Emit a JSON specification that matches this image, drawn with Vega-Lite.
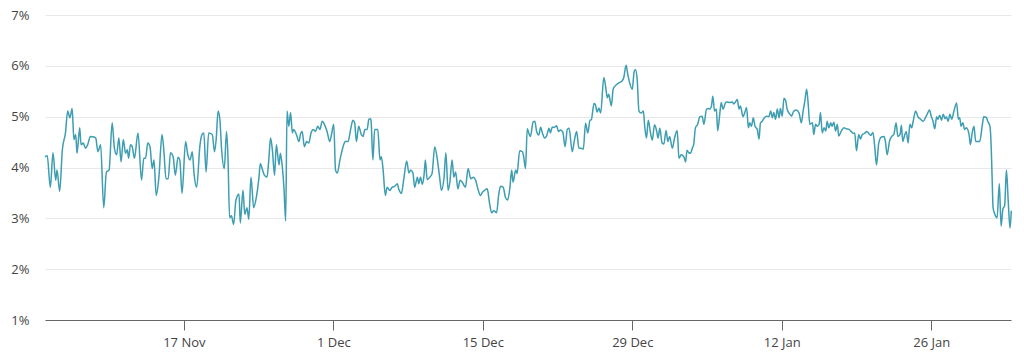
{
"$schema": "https://vega.github.io/schema/vega-lite/v6.json",
"width": 966,
"height": 305,
"autosize": {"type": "none"},
"padding": {"left": 45, "top": 15, "right": 13, "bottom": 43},
"background": "#ffffff",
"config": {"view": {"stroke": null}, "font": "Open Sans"},
"data": {"values": [
{"t":"2024-11-04T00:00","v":4.21},{"t":"2024-11-04T05:00","v":4.23},{"t":"2024-11-04T12:00","v":3.61},{"t":"2024-11-04T18:00","v":4.29},
{"t":"2024-11-05T00:00","v":3.75},{"t":"2024-11-05T03:00","v":3.95},{"t":"2024-11-05T09:00","v":3.53},{"t":"2024-11-05T15:00","v":4.35},{"t":"2024-11-05T22:00","v":4.68},
{"t":"2024-11-06T03:00","v":5.11},{"t":"2024-11-06T08:00","v":4.98},{"t":"2024-11-06T13:00","v":5.16},{"t":"2024-11-06T17:00","v":4.55},{"t":"2024-11-06T21:00","v":4.65},
{"t":"2024-11-07T00:00","v":4.28},{"t":"2024-11-07T06:00","v":4.78},{"t":"2024-11-07T09:00","v":4.45},{"t":"2024-11-07T14:00","v":4.48},{"t":"2024-11-07T19:00","v":4.38},
{"t":"2024-11-08T00:00","v":4.45},{"t":"2024-11-08T06:00","v":4.61},{"t":"2024-11-08T14:00","v":4.60},{"t":"2024-11-08T18:00","v":4.58},{"t":"2024-11-08T23:00","v":4.31},
{"t":"2024-11-09T05:00","v":4.45},{"t":"2024-11-09T12:00","v":3.21},{"t":"2024-11-09T18:00","v":3.91},
{"t":"2024-11-10T00:00","v":3.95},{"t":"2024-11-10T07:00","v":4.88},{"t":"2024-11-10T12:00","v":4.38},{"t":"2024-11-10T17:00","v":4.25},{"t":"2024-11-10T22:00","v":4.58},
{"t":"2024-11-11T03:00","v":4.11},{"t":"2024-11-11T08:00","v":4.55},{"t":"2024-11-11T13:00","v":4.28},{"t":"2024-11-11T17:00","v":4.35},{"t":"2024-11-11T20:00","v":4.18},
{"t":"2024-11-12T00:00","v":4.45},{"t":"2024-11-12T04:00","v":4.41},{"t":"2024-11-12T09:00","v":4.18},{"t":"2024-11-12T17:00","v":4.68},
{"t":"2024-11-13T01:00","v":3.75},{"t":"2024-11-13T06:00","v":4.18},{"t":"2024-11-13T10:00","v":4.18},{"t":"2024-11-13T15:00","v":4.48},{"t":"2024-11-13T20:00","v":4.41},
{"t":"2024-11-14T01:00","v":3.98},{"t":"2024-11-14T05:00","v":4.15},{"t":"2024-11-14T10:00","v":3.45},{"t":"2024-11-14T16:00","v":3.81},{"t":"2024-11-14T23:00","v":4.65},
{"t":"2024-11-15T03:00","v":4.35},{"t":"2024-11-15T08:00","v":3.78},{"t":"2024-11-15T13:00","v":3.78},{"t":"2024-11-15T18:00","v":4.29},
{"t":"2024-11-16T00:00","v":4.21},{"t":"2024-11-16T05:00","v":3.85},{"t":"2024-11-16T11:00","v":4.20},{"t":"2024-11-16T15:00","v":4.15},{"t":"2024-11-16T20:00","v":3.49},
{"t":"2024-11-17T04:00","v":4.51},{"t":"2024-11-17T09:00","v":4.25},{"t":"2024-11-17T14:00","v":4.15},{"t":"2024-11-17T19:00","v":4.31},{"t":"2024-11-17T23:00","v":3.88},
{"t":"2024-11-18T05:00","v":3.61},{"t":"2024-11-18T12:00","v":4.41},{"t":"2024-11-18T17:00","v":4.65},{"t":"2024-11-18T21:00","v":4.68},
{"t":"2024-11-19T02:00","v":3.91},{"t":"2024-11-19T08:00","v":4.68},{"t":"2024-11-19T16:00","v":4.65},{"t":"2024-11-19T21:00","v":4.31},
{"t":"2024-11-20T01:00","v":4.58},{"t":"2024-11-20T05:00","v":5.11},{"t":"2024-11-20T09:00","v":4.95},{"t":"2024-11-20T13:00","v":4.35},{"t":"2024-11-20T19:00","v":3.98},
{"t":"2024-11-21T00:00","v":4.71},{"t":"2024-11-21T03:00","v":4.28},{"t":"2024-11-21T07:00","v":3.01},{"t":"2024-11-21T11:00","v":3.05},{"t":"2024-11-21T16:00","v":2.88},{"t":"2024-11-21T21:00","v":3.35},
{"t":"2024-11-22T04:00","v":3.48},{"t":"2024-11-22T07:00","v":2.91},{"t":"2024-11-22T13:00","v":3.55},{"t":"2024-11-22T17:00","v":3.08},{"t":"2024-11-22T22:00","v":3.21},
{"t":"2024-11-23T02:00","v":2.98},{"t":"2024-11-23T07:00","v":3.81},{"t":"2024-11-23T13:00","v":3.21},{"t":"2024-11-23T19:00","v":3.41},
{"t":"2024-11-24T01:00","v":3.81},{"t":"2024-11-24T04:00","v":4.08},{"t":"2024-11-24T08:00","v":3.98},{"t":"2024-11-24T13:00","v":3.85},{"t":"2024-11-24T19:00","v":3.81},{"t":"2024-11-24T23:00","v":4.15},
{"t":"2024-11-25T03:00","v":4.58},{"t":"2024-11-25T07:00","v":4.35},{"t":"2024-11-25T12:00","v":3.85},{"t":"2024-11-25T16:00","v":4.45},{"t":"2024-11-25T22:00","v":4.05},
{"t":"2024-11-26T01:00","v":4.28},{"t":"2024-11-26T05:00","v":4.05},{"t":"2024-11-26T09:00","v":3.61},{"t":"2024-11-26T13:00","v":2.95},{"t":"2024-11-26T16:00","v":5.11},{"t":"2024-11-26T20:00","v":4.81},
{"t":"2024-11-27T00:00","v":5.08},{"t":"2024-11-27T04:00","v":4.68},{"t":"2024-11-27T07:00","v":4.75},{"t":"2024-11-27T13:00","v":4.65},{"t":"2024-11-27T19:00","v":4.51},{"t":"2024-11-27T22:00","v":4.65},
{"t":"2024-11-28T02:00","v":4.71},{"t":"2024-11-28T07:00","v":4.41},{"t":"2024-11-28T12:00","v":4.51},{"t":"2024-11-28T17:00","v":4.48},{"t":"2024-11-28T22:00","v":4.68},
{"t":"2024-11-29T03:00","v":4.75},{"t":"2024-11-29T08:00","v":4.71},{"t":"2024-11-29T13:00","v":4.81},{"t":"2024-11-29T18:00","v":4.75},{"t":"2024-11-29T23:00","v":4.91},
{"t":"2024-11-30T04:00","v":4.85},{"t":"2024-11-30T10:00","v":4.71},{"t":"2024-11-30T16:00","v":4.51},{"t":"2024-11-30T20:00","v":4.65},
{"t":"2024-12-01T01:00","v":4.85},{"t":"2024-12-01T05:00","v":3.95},{"t":"2024-12-01T09:00","v":3.89},{"t":"2024-12-01T15:00","v":4.15},{"t":"2024-12-01T22:00","v":4.41},
{"t":"2024-12-02T03:00","v":4.51},{"t":"2024-12-02T09:00","v":4.51},{"t":"2024-12-02T15:00","v":4.75},{"t":"2024-12-02T20:00","v":4.93},
{"t":"2024-12-03T00:00","v":4.88},{"t":"2024-12-03T04:00","v":4.51},{"t":"2024-12-03T09:00","v":4.81},{"t":"2024-12-03T15:00","v":4.65},{"t":"2024-12-03T19:00","v":4.61},{"t":"2024-12-03T23:00","v":4.75},
{"t":"2024-12-04T04:00","v":4.75},{"t":"2024-12-04T08:00","v":4.95},{"t":"2024-12-04T12:00","v":4.96},{"t":"2024-12-04T13:00","v":4.91},{"t":"2024-12-04T17:00","v":4.15},{"t":"2024-12-04T21:00","v":4.75},
{"t":"2024-12-05T04:00","v":4.75},{"t":"2024-12-05T09:00","v":4.15},{"t":"2024-12-05T12:00","v":4.21},{"t":"2024-12-05T16:00","v":3.95},{"t":"2024-12-05T21:00","v":3.45},
{"t":"2024-12-06T01:00","v":3.61},{"t":"2024-12-06T07:00","v":3.55},{"t":"2024-12-06T12:00","v":3.61},{"t":"2024-12-06T18:00","v":3.63},
{"t":"2024-12-07T00:00","v":3.68},{"t":"2024-12-07T03:00","v":3.58},{"t":"2024-12-07T09:00","v":3.49},{"t":"2024-12-07T15:00","v":3.81},{"t":"2024-12-07T21:00","v":4.13},
{"t":"2024-12-08T02:00","v":3.89},{"t":"2024-12-08T06:00","v":3.95},{"t":"2024-12-08T11:00","v":3.89},{"t":"2024-12-08T15:00","v":3.61},{"t":"2024-12-08T21:00","v":3.81},
{"t":"2024-12-09T00:00","v":3.68},{"t":"2024-12-09T04:00","v":3.81},{"t":"2024-12-09T08:00","v":3.67},{"t":"2024-12-09T12:00","v":3.85},{"t":"2024-12-09T15:00","v":4.15},{"t":"2024-12-09T19:00","v":3.76},
{"t":"2024-12-10T01:00","v":3.81},{"t":"2024-12-10T06:00","v":3.88},{"t":"2024-12-10T12:00","v":4.41},{"t":"2024-12-10T18:00","v":4.15},{"t":"2024-12-10T23:00","v":3.81},
{"t":"2024-12-11T03:00","v":3.55},{"t":"2024-12-11T09:00","v":3.81},{"t":"2024-12-11T13:00","v":4.29},{"t":"2024-12-11T18:00","v":3.55},{"t":"2024-12-11T22:00","v":3.71},
{"t":"2024-12-12T03:00","v":4.15},{"t":"2024-12-12T07:00","v":3.81},{"t":"2024-12-12T11:00","v":3.91},{"t":"2024-12-12T16:00","v":3.58},{"t":"2024-12-12T21:00","v":3.75},
{"t":"2024-12-13T02:00","v":3.71},{"t":"2024-12-13T09:00","v":3.61},{"t":"2024-12-13T15:00","v":3.98},{"t":"2024-12-13T21:00","v":3.78},
{"t":"2024-12-14T03:00","v":3.81},{"t":"2024-12-14T08:00","v":3.75},{"t":"2024-12-14T13:00","v":3.58},{"t":"2024-12-14T19:00","v":3.45},{"t":"2024-12-14T23:00","v":3.51},
{"t":"2024-12-15T04:00","v":3.55},{"t":"2024-12-15T10:00","v":3.58},{"t":"2024-12-15T15:00","v":3.31},{"t":"2024-12-15T20:00","v":3.11},
{"t":"2024-12-16T01:00","v":3.15},{"t":"2024-12-16T07:00","v":3.11},{"t":"2024-12-16T12:00","v":3.48},{"t":"2024-12-16T16:00","v":3.63},{"t":"2024-12-16T22:00","v":3.61},
{"t":"2024-12-17T03:00","v":3.41},{"t":"2024-12-17T08:00","v":3.36},{"t":"2024-12-17T13:00","v":3.61},{"t":"2024-12-17T17:00","v":3.95},{"t":"2024-12-17T20:00","v":3.71},
{"t":"2024-12-18T02:00","v":3.95},{"t":"2024-12-18T05:00","v":3.88},{"t":"2024-12-18T11:00","v":4.33},{"t":"2024-12-18T17:00","v":4.31},{"t":"2024-12-18T20:00","v":4.21},
{"t":"2024-12-19T00:00","v":3.98},{"t":"2024-12-19T04:00","v":4.76},{"t":"2024-12-19T08:00","v":4.66},{"t":"2024-12-19T11:00","v":4.61},{"t":"2024-12-19T17:00","v":4.89},{"t":"2024-12-19T21:00","v":4.91},
{"t":"2024-12-20T01:00","v":4.71},{"t":"2024-12-20T06:00","v":4.64},{"t":"2024-12-20T10:00","v":4.79},{"t":"2024-12-20T14:00","v":4.68},{"t":"2024-12-20T19:00","v":4.58},{"t":"2024-12-20T23:00","v":4.61},
{"t":"2024-12-21T05:00","v":4.77},{"t":"2024-12-21T08:00","v":4.68},{"t":"2024-12-21T12:00","v":4.79},{"t":"2024-12-21T17:00","v":4.79},{"t":"2024-12-21T22:00","v":4.82},
{"t":"2024-12-22T02:00","v":4.71},{"t":"2024-12-22T07:00","v":4.74},{"t":"2024-12-22T12:00","v":4.69},{"t":"2024-12-22T17:00","v":4.41},{"t":"2024-12-22T22:00","v":4.75},
{"t":"2024-12-23T02:00","v":4.77},{"t":"2024-12-23T09:00","v":4.31},{"t":"2024-12-23T14:00","v":4.54},{"t":"2024-12-23T19:00","v":4.71},
{"t":"2024-12-24T00:00","v":4.38},{"t":"2024-12-24T05:00","v":4.38},{"t":"2024-12-24T10:00","v":4.36},{"t":"2024-12-24T15:00","v":4.87},{"t":"2024-12-24T20:00","v":4.68},
{"t":"2024-12-25T01:00","v":4.93},{"t":"2024-12-25T04:00","v":4.94},{"t":"2024-12-25T10:00","v":5.26},{"t":"2024-12-25T13:00","v":5.24},{"t":"2024-12-25T17:00","v":5.09},{"t":"2024-12-25T21:00","v":5.17},
{"t":"2024-12-26T01:00","v":5.07},{"t":"2024-12-26T08:00","v":5.77},{"t":"2024-12-26T12:00","v":5.60},{"t":"2024-12-26T16:00","v":5.37},{"t":"2024-12-26T19:00","v":5.44},
{"t":"2024-12-27T01:00","v":5.21},{"t":"2024-12-27T05:00","v":5.54},{"t":"2024-12-27T09:00","v":5.60},{"t":"2024-12-27T14:00","v":5.64},{"t":"2024-12-27T19:00","v":5.67},
{"t":"2024-12-28T01:00","v":5.70},{"t":"2024-12-28T05:00","v":5.77},{"t":"2024-12-28T10:00","v":6.01},{"t":"2024-12-28T14:00","v":5.83},{"t":"2024-12-28T18:00","v":5.67},
{"t":"2024-12-29T00:00","v":5.54},{"t":"2024-12-29T04:00","v":5.87},{"t":"2024-12-29T07:00","v":5.93},{"t":"2024-12-29T11:00","v":5.74},{"t":"2024-12-29T15:00","v":5.11},{"t":"2024-12-29T20:00","v":5.07},
{"t":"2024-12-30T01:00","v":5.11},{"t":"2024-12-30T04:00","v":4.81},{"t":"2024-12-30T08:00","v":4.58},{"t":"2024-12-30T12:00","v":4.93},{"t":"2024-12-30T17:00","v":4.68},{"t":"2024-12-30T21:00","v":4.54},
{"t":"2024-12-31T02:00","v":4.84},{"t":"2024-12-31T07:00","v":4.71},{"t":"2024-12-31T10:00","v":4.58},{"t":"2024-12-31T14:00","v":4.77},{"t":"2024-12-31T19:00","v":4.48},{"t":"2024-12-31T23:00","v":4.46},
{"t":"2025-01-01T04:00","v":4.73},{"t":"2025-01-01T08:00","v":4.51},{"t":"2025-01-01T12:00","v":4.61},{"t":"2025-01-01T18:00","v":4.38},{"t":"2025-01-01T23:00","v":4.58},
{"t":"2025-01-02T05:00","v":4.73},{"t":"2025-01-02T09:00","v":4.18},{"t":"2025-01-02T14:00","v":4.25},{"t":"2025-01-02T20:00","v":4.21},
{"t":"2025-01-03T00:00","v":4.11},{"t":"2025-01-03T03:00","v":4.34},{"t":"2025-01-03T07:00","v":4.29},{"t":"2025-01-03T11:00","v":4.28},{"t":"2025-01-03T15:00","v":4.38},{"t":"2025-01-03T18:00","v":4.45},{"t":"2025-01-03T22:00","v":4.78},
{"t":"2025-01-04T03:00","v":4.85},{"t":"2025-01-04T08:00","v":5.00},{"t":"2025-01-04T13:00","v":5.01},{"t":"2025-01-04T17:00","v":4.85},{"t":"2025-01-04T23:00","v":5.15},
{"t":"2025-01-05T03:00","v":5.16},{"t":"2025-01-05T06:00","v":5.15},{"t":"2025-01-05T10:00","v":5.21},{"t":"2025-01-05T13:00","v":5.40},{"t":"2025-01-05T17:00","v":5.11},{"t":"2025-01-05T21:00","v":5.15},
{"t":"2025-01-06T00:00","v":4.72},{"t":"2025-01-06T05:00","v":5.08},{"t":"2025-01-06T08:00","v":5.28},{"t":"2025-01-06T12:00","v":5.15},{"t":"2025-01-06T18:00","v":5.28},{"t":"2025-01-06T21:00","v":5.29},
{"t":"2025-01-07T03:00","v":5.28},{"t":"2025-01-07T09:00","v":5.29},{"t":"2025-01-07T12:00","v":5.25},{"t":"2025-01-07T16:00","v":5.29},{"t":"2025-01-07T20:00","v":5.34},
{"t":"2025-01-08T00:00","v":5.15},{"t":"2025-01-08T03:00","v":5.21},{"t":"2025-01-08T09:00","v":5.00},{"t":"2025-01-08T13:00","v":5.08},{"t":"2025-01-08T17:00","v":5.18},{"t":"2025-01-08T21:00","v":4.78},
{"t":"2025-01-09T00:00","v":4.88},{"t":"2025-01-09T04:00","v":4.81},{"t":"2025-01-09T08:00","v":4.98},{"t":"2025-01-09T12:00","v":4.81},{"t":"2025-01-09T17:00","v":4.75},{"t":"2025-01-09T21:00","v":4.56},
{"t":"2025-01-10T00:00","v":4.87},{"t":"2025-01-10T04:00","v":4.91},{"t":"2025-01-10T09:00","v":4.98},{"t":"2025-01-10T14:00","v":5.01},{"t":"2025-01-10T19:00","v":5.00},{"t":"2025-01-10T23:00","v":5.11},
{"t":"2025-01-11T03:00","v":4.98},{"t":"2025-01-11T06:00","v":5.08},{"t":"2025-01-11T10:00","v":4.95},{"t":"2025-01-11T14:00","v":5.15},{"t":"2025-01-11T18:00","v":4.98},{"t":"2025-01-11T21:00","v":5.16},
{"t":"2025-01-12T01:00","v":5.01},{"t":"2025-01-12T05:00","v":5.36},{"t":"2025-01-12T09:00","v":5.31},{"t":"2025-01-12T12:00","v":5.15},{"t":"2025-01-12T18:00","v":5.05},{"t":"2025-01-12T22:00","v":5.01},
{"t":"2025-01-13T03:00","v":5.11},{"t":"2025-01-13T09:00","v":5.13},{"t":"2025-01-13T15:00","v":5.07},{"t":"2025-01-13T20:00","v":4.88},
{"t":"2025-01-14T00:00","v":5.11},{"t":"2025-01-14T04:00","v":5.31},{"t":"2025-01-14T08:00","v":5.54},{"t":"2025-01-14T12:00","v":5.18},{"t":"2025-01-14T15:00","v":4.85},{"t":"2025-01-14T21:00","v":4.88},
{"t":"2025-01-15T00:00","v":4.65},{"t":"2025-01-15T04:00","v":4.85},{"t":"2025-01-15T08:00","v":4.81},{"t":"2025-01-15T12:00","v":4.85},{"t":"2025-01-15T15:00","v":5.08},{"t":"2025-01-15T19:00","v":4.68},{"t":"2025-01-15T23:00","v":4.78},
{"t":"2025-01-16T03:00","v":4.72},{"t":"2025-01-16T06:00","v":4.91},{"t":"2025-01-16T10:00","v":4.78},{"t":"2025-01-16T14:00","v":4.88},{"t":"2025-01-16T17:00","v":4.81},{"t":"2025-01-16T21:00","v":4.89},
{"t":"2025-01-17T01:00","v":4.72},{"t":"2025-01-17T05:00","v":4.85},{"t":"2025-01-17T08:00","v":4.62},{"t":"2025-01-17T14:00","v":4.72},{"t":"2025-01-17T20:00","v":4.78},
{"t":"2025-01-18T01:00","v":4.76},{"t":"2025-01-18T07:00","v":4.75},{"t":"2025-01-18T12:00","v":4.71},{"t":"2025-01-18T17:00","v":4.67},{"t":"2025-01-18T20:00","v":4.68},
{"t":"2025-01-19T00:00","v":4.33},{"t":"2025-01-19T05:00","v":4.65},{"t":"2025-01-19T09:00","v":4.56},{"t":"2025-01-19T13:00","v":4.65},{"t":"2025-01-19T18:00","v":4.67},{"t":"2025-01-19T23:00","v":4.71},
{"t":"2025-01-20T04:00","v":4.67},{"t":"2025-01-20T08:00","v":4.63},{"t":"2025-01-20T13:00","v":4.69},{"t":"2025-01-20T17:00","v":4.41},{"t":"2025-01-20T21:00","v":4.05},
{"t":"2025-01-21T02:00","v":4.48},{"t":"2025-01-21T08:00","v":4.60},{"t":"2025-01-21T14:00","v":4.61},{"t":"2025-01-21T17:00","v":4.51},{"t":"2025-01-21T21:00","v":4.25},
{"t":"2025-01-22T02:00","v":4.51},{"t":"2025-01-22T07:00","v":4.61},{"t":"2025-01-22T12:00","v":4.65},{"t":"2025-01-22T17:00","v":4.88},{"t":"2025-01-22T21:00","v":4.61},
{"t":"2025-01-23T02:00","v":4.65},{"t":"2025-01-23T05:00","v":4.83},{"t":"2025-01-23T08:00","v":4.51},{"t":"2025-01-23T12:00","v":4.63},{"t":"2025-01-23T16:00","v":4.71},{"t":"2025-01-23T20:00","v":4.48},
{"t":"2025-01-24T00:00","v":4.85},{"t":"2025-01-24T04:00","v":4.78},{"t":"2025-01-24T07:00","v":4.89},{"t":"2025-01-24T13:00","v":5.11},{"t":"2025-01-24T18:00","v":5.00},
{"t":"2025-01-25T00:00","v":4.95},{"t":"2025-01-25T06:00","v":4.91},{"t":"2025-01-25T11:00","v":4.98},{"t":"2025-01-25T15:00","v":5.05},{"t":"2025-01-25T20:00","v":5.13},
{"t":"2025-01-26T00:00","v":5.01},{"t":"2025-01-26T04:00","v":4.91},{"t":"2025-01-26T08:00","v":4.76},{"t":"2025-01-26T12:00","v":5.00},{"t":"2025-01-26T15:00","v":4.95},{"t":"2025-01-26T19:00","v":5.03},{"t":"2025-01-26T23:00","v":4.93},
{"t":"2025-01-27T03:00","v":5.05},{"t":"2025-01-27T07:00","v":4.96},{"t":"2025-01-27T10:00","v":5.00},{"t":"2025-01-27T14:00","v":4.91},{"t":"2025-01-27T18:00","v":5.05},{"t":"2025-01-27T22:00","v":4.95},
{"t":"2025-01-28T03:00","v":5.11},{"t":"2025-01-28T09:00","v":5.27},{"t":"2025-01-28T13:00","v":4.95},{"t":"2025-01-28T16:00","v":4.98},{"t":"2025-01-28T19:00","v":4.81},{"t":"2025-01-28T23:00","v":4.88},
{"t":"2025-01-29T03:00","v":4.75},{"t":"2025-01-29T07:00","v":4.78},{"t":"2025-01-29T13:00","v":4.65},{"t":"2025-01-29T16:00","v":4.45},{"t":"2025-01-29T20:00","v":4.68},
{"t":"2025-01-30T00:00","v":4.81},{"t":"2025-01-30T04:00","v":4.51},{"t":"2025-01-30T09:00","v":4.51},{"t":"2025-01-30T13:00","v":4.51},{"t":"2025-01-30T19:00","v":4.85},{"t":"2025-01-30T22:00","v":5.00},
{"t":"2025-01-31T04:00","v":4.98},{"t":"2025-01-31T07:00","v":4.91},{"t":"2025-01-31T12:00","v":4.81},{"t":"2025-01-31T15:00","v":4.35},{"t":"2025-01-31T17:00","v":3.75},{"t":"2025-01-31T19:00","v":3.21},{"t":"2025-01-31T23:00","v":3.08},
{"t":"2025-02-01T04:00","v":3.01},{"t":"2025-02-01T09:00","v":3.68},{"t":"2025-02-01T13:00","v":2.85},{"t":"2025-02-01T17:00","v":3.18},{"t":"2025-02-01T21:00","v":3.25},
{"t":"2025-02-02T01:00","v":3.95},{"t":"2025-02-02T05:00","v":3.35},{"t":"2025-02-02T09:00","v":2.81},{"t":"2025-02-02T12:00","v":3.15}
]},
"mark": {"type": "line", "color": "#3d9db1", "strokeWidth": 1.5, "interpolate": "monotone"},
"encoding": {
  "x": {
    "field": "t", "type": "temporal",
    "scale": {"domain": [{"year": 2024, "month": 11, "date": 4}, {"year": 2025, "month": 2, "date": 2, "hours": 11, "minutes": 17}]},
    "axis": {
      "title": null,
      "values": [{"year": 2024, "month": 11, "date": 17}, {"year": 2024, "month": 12, "date": 1}, {"year": 2024, "month": 12, "date": 15}, {"year": 2024, "month": 12, "date": 29}, {"year": 2025, "month": 1, "date": 12}, {"year": 2025, "month": 1, "date": 26}],
      "format": "%-d %b",
      "grid": false,
      "domainColor": "#666666",
      "domainWidth": 1,
      "tickColor": "#666666",
      "tickSize": 10,
      "labelPadding": 6,
      "labelFont": "Open Sans",
      "labelFontSize": 13,
      "labelColor": "#444444",
      "labelFlush": false
    }
  },
  "y": {
    "field": "v", "type": "quantitative",
    "scale": {"domain": [1, 7], "nice": false, "zero": false},
    "axis": {
      "title": null,
      "values": [1, 2, 3, 4, 5, 6, 7],
      "labelExpr": "datum.value + '%'",
      "domain": false,
      "ticks": false,
      "grid": true,
      "gridColor": "#e8e8e8",
      "gridWidth": 1,
      "labelPadding": 16,
      "labelFont": "Open Sans",
      "labelFontSize": 13,
      "labelColor": "#444444"
    }
  }
}
}
